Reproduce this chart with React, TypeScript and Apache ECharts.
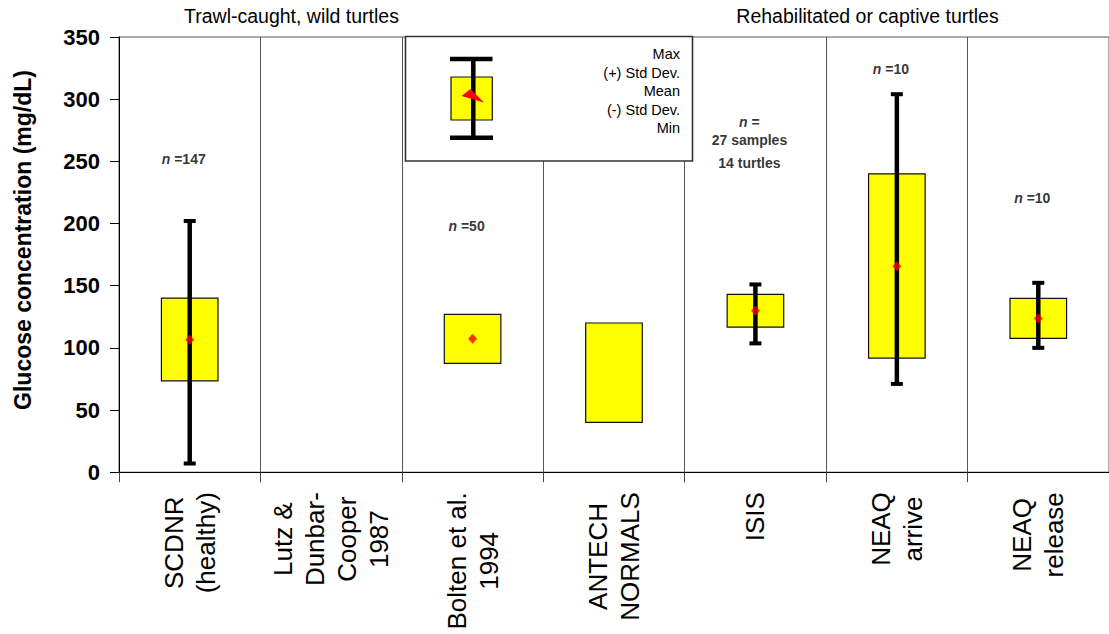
import React, { useEffect, useRef } from 'react';
import * as echarts from 'echarts';

const categories = [
  'SCDNR\n(healthy)',
  'Lutz &\nDunbar-\nCooper\n1987',
  'Bolten et al.\n1994',
  'ANTECH\nNORMALS',
  'ISIS',
  'NEAQ\narrive',
  'NEAQ\nrelease',
];
const sdLow: (number | null)[] = [73.5, null, 87.5, 40, 116.7, 91.8, 107.6];
const sdHigh: (number | null)[] = [140, null, 127, 120, 143, 240, 139.8];
const minVals: (number | null)[] = [7, null, null, null, 103.6, 71, 100];
const maxVals: (number | null)[] = [202, null, null, null, 151, 304, 152.3];
const means: (number | null)[] = [106.5, null, 107.3, null, 129.8, 165.7, 123.7];

const yMin = 0;
const yMax = 350;
const yInterval = 50;

const noteCats = [0, 2, 4, 4, 4, 5, 6];
const noteValues = [251.5, 198, 281.7, 267.5, 248.3, 324, 220.6];
const noteTexts = [
  '{i|n}{b| =147}',
  '{i|n}{b| =50}',
  '{i|n}{b| =}',
  '{b|27 samples}',
  '{b|14 turtles}',
  '{i|n}{b| =10}',
  '{i|n}{b| =10}',
];

const groupTitles = ['Trawl-caught, wild turtles', 'Rehabilitated or captive turtles'];
const yTitle = 'Glucose concentration (mg/dL)';
const legendLabels = ['Max', '(+) Std Dev.', 'Mean', '(-) Std Dev.', 'Min'];

const FONT = "'Liberation Sans', Arial, Helvetica, sans-serif";

export default function App() {
  const ref = useRef<HTMLDivElement>(null);

  useEffect(() => {
    if (!ref.current) return;
    const chart = echarts.init(ref.current, undefined, { renderer: 'svg' });

    const boxData = categories
      .map((_, i) => [i, sdLow[i] ?? '-', sdHigh[i] ?? '-', minVals[i] ?? '-', maxVals[i] ?? '-'])
      .filter((r) => r[1] !== '-');
    const meanData = means
      .map((m, i) => (m == null ? null : [i, m]))
      .filter((d) => d !== null);
    const noteData = noteCats.map((c, k) => [c, noteValues[k]]);

    const legendTextEls = legendLabels.map((t, k) => ({
      type: 'text',
      z: 101,
      style: {
        text: t,
        x: 680,
        y: 54 + k * 18.6,
        textAlign: 'right',
        textVerticalAlign: 'middle',
        font: `14.5px ${FONT}`,
        fill: '#000',
      },
    }));

    const option: any = {
      animation: false,
      backgroundColor: '#fff',
      grid: {
        left: 119,
        top: 37,
        width: 997.5,
        height: 435.2,
        show: true,
        borderColor: '#555',
        borderWidth: 1,
        backgroundColor: 'transparent',
      },
      xAxis: {
        type: 'category',
        data: categories,
        boundaryGap: true,
        axisLine: { show: true, lineStyle: { color: '#000', width: 1 } },
        axisTick: { show: true, length: 10, inside: false, lineStyle: { color: '#444' } },
        splitLine: { show: true, lineStyle: { color: '#555', width: 1 } },
        axisLabel: {
          interval: 0,
          rotate: 90,
          margin: 20,
          color: '#000',
          fontFamily: FONT,
          fontSize: 26,
          lineHeight: 32,
          formatter: (v: string) =>
            v
              .split('\n')
              .map((l) => `{c|${l}}`)
              .join('\n'),
          rich: {
            c: {
              align: 'center',
              fontSize: 26,
              lineHeight: 32,
              fontFamily: FONT,
              color: '#000',
            },
          },
        },
      },
      yAxis: {
        type: 'value',
        min: yMin,
        max: yMax,
        interval: yInterval,
        axisLine: { show: true, lineStyle: { color: '#000', width: 1 } },
        axisTick: { show: true, length: 9, inside: false, lineStyle: { color: '#000' } },
        splitLine: { show: false },
        axisLabel: {
          margin: 19,
          color: '#000',
          fontFamily: FONT,
          fontSize: 22,
          fontWeight: 'bold',
        },
      },
      series: [
        {
          type: 'custom',
          z: 3,
          encode: { x: 0, y: [1, 2, 3, 4] },
          data: boxData,
          renderItem: (params: any, api: any) => {
            const i = api.value(0);
            const lo = api.value(1);
            const hi = api.value(2);
            const mn = api.value(3);
            const mx = api.value(4);
            const bw = api.size([1, 0])[0] * 0.4;
            const children: any[] = [];
            const top = api.coord([i, hi]);
            const bot = api.coord([i, lo]);
            children.push({
              type: 'rect',
              shape: { x: top[0] - bw / 2, y: top[1], width: bw, height: bot[1] - top[1] },
              style: { fill: '#FFFF00', stroke: '#111', lineWidth: 1.2 },
            });
            if (!isNaN(mn) && !isNaN(mx)) {
              const pMin = api.coord([i, mn]);
              const pMax = api.coord([i, mx]);
              children.push({
                type: 'line',
                shape: { x1: pMax[0], y1: pMax[1], x2: pMin[0], y2: pMin[1] },
                style: { stroke: '#000', lineWidth: 4.5 },
              });
              const cw = 12;
              children.push({
                type: 'line',
                shape: { x1: pMax[0] - cw / 2, y1: pMax[1], x2: pMax[0] + cw / 2, y2: pMax[1] },
                style: { stroke: '#000', lineWidth: 4 },
              });
              children.push({
                type: 'line',
                shape: { x1: pMin[0] - cw / 2, y1: pMin[1], x2: pMin[0] + cw / 2, y2: pMin[1] },
                style: { stroke: '#000', lineWidth: 4 },
              });
            }
            return { type: 'group', children };
          },
        },
        {
          type: 'scatter',
          z: 4,
          data: meanData,
          symbol: 'diamond',
          symbolSize: [9, 10],
          itemStyle: { color: '#FF0000' },
        },
        {
          type: 'scatter',
          z: 5,
          data: noteData,
          symbolSize: 1,
          itemStyle: { color: 'rgba(0,0,0,0)' },
          label: {
            show: true,
            position: 'inside',
            offset: [-6, 0],
            formatter: (p: any) => noteTexts[p.dataIndex],
            rich: {
              i: { fontStyle: 'italic', fontWeight: 'bold', fontSize: 14, fontFamily: FONT, color: '#000' },
              b: { fontWeight: 'bold', fontSize: 14, fontFamily: FONT, color: '#000' },
            },
          },
        },
      ],
      graphic: [
        {
          type: 'text',
          z: 100,
          style: {
            text: groupTitles[0],
            x: 291.5,
            y: 16,
            textAlign: 'center',
            textVerticalAlign: 'middle',
            font: `19.5px ${FONT}`,
            fill: '#000',
          },
        },
        {
          type: 'text',
          z: 100,
          style: {
            text: groupTitles[1],
            x: 867.5,
            y: 16,
            textAlign: 'center',
            textVerticalAlign: 'middle',
            font: `19.5px ${FONT}`,
            fill: '#000',
          },
        },
        {
          type: 'text',
          z: 100,
          x: 23,
          y: 240,
          rotation: Math.PI / 2,
          style: {
            text: yTitle,
            x: 0,
            y: 0,
            textAlign: 'center',
            textVerticalAlign: 'middle',
            font: `bold 23px ${FONT}`,
            fill: '#000',
          },
        },
        {
          type: 'rect',
          z: 100,
          shape: { x: 405.5, y: 36.5, width: 287, height: 124.5 },
          style: { fill: '#fff', stroke: '#333', lineWidth: 1.6 },
        },
        {
          type: 'rect',
          z: 101,
          shape: { x: 451, y: 77, width: 41.3, height: 43 },
          style: { fill: '#FFFF00', stroke: '#111', lineWidth: 1.2 },
        },
        {
          type: 'line',
          z: 102,
          shape: { x1: 473.3, y1: 59, x2: 473.3, y2: 137.7 },
          style: { stroke: '#000', lineWidth: 4.5 },
        },
        {
          type: 'line',
          z: 102,
          shape: { x1: 450, y1: 59, x2: 492.5, y2: 59 },
          style: { stroke: '#000', lineWidth: 4.5 },
        },
        {
          type: 'line',
          z: 102,
          shape: { x1: 450, y1: 137.7, x2: 493, y2: 137.7 },
          style: { stroke: '#000', lineWidth: 4.5 },
        },
        {
          type: 'polygon',
          z: 103,
          shape: { points: [[461.5, 96], [470.5, 89], [484, 102.5]] },
          style: { fill: '#FF0000' },
        },
        ...legendTextEls,
      ],
    };

    chart.setOption(option);
    return () => chart.dispose();
  }, []);

  return (
    <div
      ref={ref}
      style={{ position: 'fixed', left: 0, top: 0, width: 1109, height: 634, background: '#fff' }}
    />
  );
}
